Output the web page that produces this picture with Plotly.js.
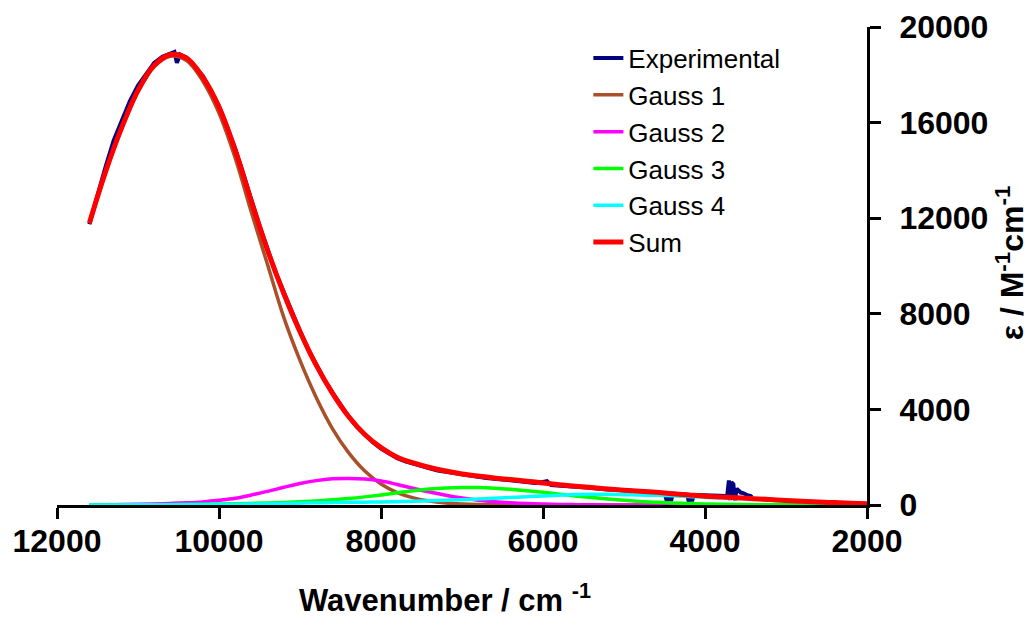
<!DOCTYPE html>
<html>
<head>
<meta charset="utf-8">
<script src="https://cdn.plot.ly/plotly-3.0.1.min.js"></script>
<style>
  html, body { margin: 0; padding: 0; background: #ffffff; }
  #chart { width: 1032px; height: 617px; }
</style>
</head>
<body>
<div id="chart"></div>
<script>
// ---- Data ----
// Wavenumber grid (cm^-1) for fitted curves
const fitWavenumber = [11600, 11400, 11200, 11000, 10800, 10600, 10400, 10200, 10000, 9800,
  9600, 9400, 9200, 9000, 8800, 8600, 8400, 8200, 8000, 7800,
  7600, 7400, 7200, 7000, 6800, 6600, 6400, 6200, 6000, 5800,
  5600, 5400, 5200, 5000, 4800, 4600, 4400, 4200, 4000, 3800,
  3600, 3400, 3200, 3000, 2800, 2600, 2400, 2200, 2000];

const gauss1 = [11790, 13930, 15770, 17290, 18340, 18780, 18600, 17740, 16400, 14520,
  12250, 10050, 7850, 6050, 4500, 3200, 2190, 1420, 880, 520,
  300, 165, 88, 45, 20, 8, 3, 1, 0, 0,
  0, 0, 0, 0, 0, 0, 0, 0, 0, 0,
  0, 0, 0, 0, 0, 0, 0, 0, 0];

const gauss2 = [5, 10, 18, 30, 45, 65, 90, 130, 195, 280,
  420, 570, 740, 900, 1020, 1095, 1110, 1085, 1000, 860,
  700, 545, 410, 290, 200, 135, 90, 58, 38, 24,
  15, 9, 5, 3, 2, 1, 0, 0, 0, 0,
  0, 0, 0, 0, 0, 0, 0, 0, 0];

const gauss3 = [2, 4, 6, 9, 13, 18, 24, 31, 40, 52,
  66, 84, 106, 134, 170, 215, 270, 340, 420, 510,
  600, 670, 715, 735, 730, 705, 660, 600, 530, 455,
  380, 310, 250, 195, 150, 115, 85, 62, 45, 32,
  22, 15, 10, 6, 4, 2, 1, 0, 0];

const gauss4 = [2, 3, 5, 7, 10, 13, 17, 22, 28, 35,
  44, 55, 66, 78, 90, 100, 110, 118, 125, 140,
  158, 180, 200, 222, 250, 280, 310, 345, 380, 410,
  435, 445, 445, 430, 415, 405, 385, 355, 320, 300,
  275, 248, 216, 183, 150, 122, 98, 74, 50];

const sumFit = [11800, 13950, 15800, 17350, 18400, 18850, 18700, 17900, 16650, 14850,
  12700, 10650, 8850, 7250, 5850, 4680, 3700, 2950, 2400, 2000,
  1760, 1570, 1420, 1300, 1210, 1130, 1065, 995, 925, 850,
  782, 728, 672, 620, 578, 530, 475, 420, 368, 335,
  300, 265, 228, 190, 155, 125, 100, 75, 50];

// Experimental spectrum (noisy), read point by point
const expWavenumber = [11600, 11500, 11400, 11300, 11200, 11100, 11000, 10900, 10800, 10700,
  10600, 10550, 10520, 10480, 10400, 10300, 10200, 10100, 10000, 9900,
  9800, 9700, 9600, 9500, 9400, 9300, 9200, 9100, 9000, 8900,
  8800, 8700, 8600, 8500, 8400, 8300, 8200, 8100, 8000, 7900,
  7800, 7700, 7600, 7500, 7400, 7300, 7200, 7100, 7000, 6900,
  6800, 6700, 6600, 6500, 6400, 6300, 6200, 6100, 6000, 5950,
  5900, 5800, 5700, 5600, 5500, 5400, 5300, 5200, 5100, 5000,
  4900, 4800, 4700, 4600, 4500, 4470, 4440, 4420, 4400, 4300,
  4220, 4200, 4180, 4160, 4140, 4100, 4000, 3900, 3800, 3740,
  3725, 3705, 3690, 3675, 3650, 3630, 3610, 3590, 3560, 3530,
  3500, 3470, 3440, 3420];

const expAbs = [11750, 13000, 14150, 15250, 16100, 16900, 17550, 18050, 18500, 18750,
  18900, 18950, 18500, 18850, 18720, 18350, 17950, 17350, 16680, 15800,
  14900, 13850, 12750, 11680, 10700, 9720, 8900, 8050, 7280, 6520,
  5880, 5250, 4700, 4170, 3700, 3280, 2940, 2630, 2360, 2150,
  1960, 1830, 1720, 1610, 1530, 1440, 1390, 1310, 1260, 1200,
  1180, 1130, 1100, 1060, 1040, 990, 970, 925, 960, 1000,
  830, 820, 800, 760, 740, 700, 690, 650, 640, 610,
  600, 560, 560, 520, 500, 150, 480, 150, 480, 450,
  430, 150, 430, 160, 420, 420, 400, 380, 360, 380,
  420, 1030, 200, 950, 870, 200, 680, 600, 520, 500,
  430, 400, 380, 320];

const xTickVals = [12000, 10000, 8000, 6000, 4000, 2000];
const xTickText = ['12000', '10000', '8000', '6000', '4000', '2000'];
const yTickVals = [0, 4000, 8000, 12000, 16000, 20000];
const yTickText = ['0', '4000', '8000', '12000', '16000', '20000'];

const seriesNames = ['Experimental', 'Gauss 1', 'Gauss 2', 'Gauss 3', 'Gauss 4', 'Sum'];

// ---- Chart ----
const FONT = 'Liberation Sans, Arial, Helvetica, sans-serif';

const traces = [
  {x: expWavenumber, y: expAbs, name: seriesNames[0], mode: 'lines',
   line: {color: '#000080', width: 4}},
  {x: fitWavenumber, y: gauss1, name: seriesNames[1], mode: 'lines',
   line: {color: '#A9502A', width: 3.5, shape: 'spline'}},
  {x: fitWavenumber, y: gauss2, name: seriesNames[2], mode: 'lines',
   line: {color: '#FF00FF', width: 3.5, shape: 'spline'}},
  {x: fitWavenumber, y: gauss3, name: seriesNames[3], mode: 'lines',
   line: {color: '#00FF00', width: 3.5, shape: 'spline'}},
  {x: fitWavenumber, y: gauss4, name: seriesNames[4], mode: 'lines',
   line: {color: '#00FFFF', width: 3.5, shape: 'spline'}},
  {x: fitWavenumber, y: sumFit, name: seriesNames[5], mode: 'lines',
   line: {color: '#FF0000', width: 5, shape: 'spline'}}
];

const layout = {
  width: 1032, height: 617,
  margin: {l: 57, r: 165, t: 27, b: 112, pad: 0},
  paper_bgcolor: '#ffffff', plot_bgcolor: '#ffffff',
  showlegend: true,
  legend: {
    x: 0.656, y: 0.984, xanchor: 'left', yanchor: 'top',
    bgcolor: 'rgba(0,0,0,0)', borderwidth: 0,
    font: {family: FONT, size: 26, color: '#000000'}
  },
  xaxis: {
    range: [12000, 2000], autorange: false,
    tickvals: xTickVals, ticktext: xTickText,
    ticks: 'outside', ticklen: 11, tickwidth: 3, tickcolor: '#000000',
    showline: true, linewidth: 3, linecolor: '#000000',
    showgrid: false, zeroline: false,
    tickfont: {family: FONT, size: 32, color: '#000000', weight: 'bold'},
    ticklabelstandoff: -5
  },
  yaxis: {
    range: [0, 20000], autorange: false, side: 'right',
    tickvals: yTickVals, ticktext: yTickText,
    ticks: 'outside', ticklen: 11, tickwidth: 3, tickcolor: '#000000',
    showline: true, linewidth: 3, linecolor: '#000000',
    showgrid: false, zeroline: false,
    tickfont: {family: FONT, size: 32, color: '#000000', weight: 'bold'},
    ticklabelstandoff: 12
  },
  annotations: [
    {text: 'Wavenumber / cm <sup>-1</sup>', xref: 'paper', yref: 'paper',
     x: 0.479, y: -0.194, xanchor: 'center', yanchor: 'middle', showarrow: false,
     font: {family: FONT, size: 31, color: '#000000', weight: 'bold'}},
    {text: 'ε / M<sup>-1</sup>cm<sup>-1</sup>', xref: 'paper', yref: 'paper',
     x: 1.1765, y: 0.508, xanchor: 'center', yanchor: 'middle', showarrow: false,
     textangle: -90,
     font: {family: FONT, size: 32, color: '#000000', weight: 'bold'}}
  ]
};

Plotly.newPlot('chart', traces, layout, {displayModeBar: false, staticPlot: true});
</script>
</body>
</html>
